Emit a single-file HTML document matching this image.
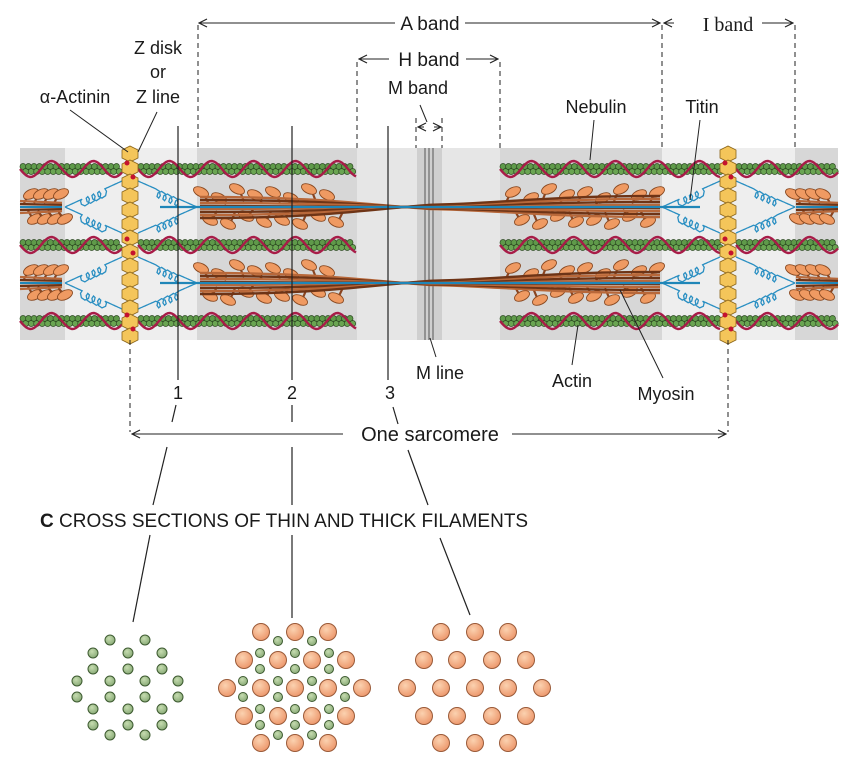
<!DOCTYPE html>
<html><head><meta charset="utf-8"><style>
html,body{margin:0;padding:0;background:#fff;}
svg{display:block;font-family:"Liberation Sans",sans-serif;}
text{fill:#1a1a1a;}
</style></head><body>
<svg id="fig" width="853" height="763" viewBox="0 0 853 763" xmlns="http://www.w3.org/2000/svg">
<defs>
<marker id="ah" markerWidth="10" markerHeight="10" refX="9" refY="5" orient="auto-start-reverse" markerUnits="userSpaceOnUse"><path d="M1,1 L9,5 L1,9" fill="none" stroke="#222" stroke-width="1.2"/></marker>
<radialGradient id="og" cx="0.4" cy="0.35" r="0.7"><stop offset="0" stop-color="#fbd2b0"/><stop offset="1" stop-color="#ec9468"/></radialGradient>
<radialGradient id="gg" cx="0.4" cy="0.35" r="0.7"><stop offset="0" stop-color="#c6dcb0"/><stop offset="1" stop-color="#86a874"/></radialGradient>
</defs>
<g id="band-bg">
<rect x="20" y="148" width="818" height="192" fill="#eeeeee"/>
<rect x="20" y="148" width="45" height="192" fill="#d7d7d7"/>
<rect x="197" y="148" width="160" height="192" fill="#d7d7d7"/>
<rect x="357" y="148" width="143" height="192" fill="#e6e6e6"/>
<rect x="417" y="148" width="25" height="192" fill="#cfcfcf"/>
<rect x="500" y="148" width="162" height="192" fill="#d7d7d7"/>
<rect x="795" y="148" width="43" height="192" fill="#d7d7d7"/>
<line x1="425" y1="148" x2="425" y2="340" stroke="#555" stroke-width="1"/>
<line x1="429" y1="148" x2="429" y2="340" stroke="#555" stroke-width="1"/>
<line x1="433" y1="148" x2="433" y2="340" stroke="#555" stroke-width="1"/>
</g>
<g id="titin"></g>
<g id="thick"></g>
<g id="thin"></g>
<g id="zdisks"></g>
<g id="labels" font-size="18">
<text x="430" y="30" text-anchor="middle" font-size="19">A band</text>
<line x1="199" y1="23" x2="395" y2="23" stroke="#222" marker-start="url(#ah)"/>
<line x1="465" y1="23" x2="660" y2="23" stroke="#222" marker-end="url(#ah)"/>
<text x="728" y="31" text-anchor="middle" font-family="Liberation Serif" font-size="20">I band</text>
<line x1="674" y1="23" x2="664" y2="23" stroke="#222" marker-end="url(#ah)"/>
<line x1="762" y1="23" x2="793" y2="23" stroke="#222" marker-end="url(#ah)"/>
<text x="429" y="66" text-anchor="middle" font-size="19">H band</text>
<line x1="389" y1="59" x2="359" y2="59" stroke="#222" marker-end="url(#ah)"/>
<line x1="466" y1="59" x2="498" y2="59" stroke="#222" marker-end="url(#ah)"/>
<text x="418" y="94" text-anchor="middle">M band</text>
<line x1="420" y1="105" x2="427" y2="122" stroke="#222"/>
<line x1="424" y1="127" x2="418" y2="127" stroke="#222" marker-end="url(#ah)"/>
<line x1="434" y1="127" x2="441" y2="127" stroke="#222" marker-end="url(#ah)"/>
<text x="158" y="54" text-anchor="middle">Z disk</text>
<text x="158" y="78" text-anchor="middle">or</text>
<text x="158" y="103" text-anchor="middle">Z line</text>
<text x="75" y="103" text-anchor="middle">α-Actinin</text>
<line x1="70" y1="110" x2="128" y2="152" stroke="#222"/>
<line x1="157" y1="112" x2="138" y2="152" stroke="#222"/>
<text x="596" y="113" text-anchor="middle">Nebulin</text>
<line x1="594" y1="120" x2="590" y2="160" stroke="#222"/>
<text x="702" y="113" text-anchor="middle">Titin</text>
<line x1="700" y1="120" x2="690" y2="200" stroke="#222"/>
<text x="440" y="379" text-anchor="middle">M line</text>
<line x1="436" y1="357" x2="430" y2="338" stroke="#222"/>
<text x="572" y="387" text-anchor="middle">Actin</text>
<line x1="572" y1="365" x2="578" y2="325" stroke="#222"/>
<text x="666" y="400" text-anchor="middle">Myosin</text>
<line x1="663" y1="378" x2="620" y2="290" stroke="#222"/>
<text x="178" y="399" text-anchor="middle">1</text>
<text x="292" y="399" text-anchor="middle">2</text>
<text x="390" y="399" text-anchor="middle">3</text>
<text x="430" y="441" text-anchor="middle" font-size="20">One sarcomere</text>
<line x1="343" y1="434" x2="132" y2="434" stroke="#222" marker-end="url(#ah)"/>
<line x1="512" y1="434" x2="726" y2="434" stroke="#222" marker-end="url(#ah)"/>
<text x="40" y="527" font-size="19"><tspan font-weight="bold">C</tspan>  CROSS SECTIONS OF THIN AND THICK FILAMENTS</text>
</g>
<g id="lines" stroke="#222" stroke-width="1.2" fill="none">
<g stroke-dasharray="5,4" stroke-width="1">
<line x1="198" y1="25" x2="198" y2="148"/>
<line x1="662" y1="25" x2="662" y2="148"/>
<line x1="795" y1="25" x2="795" y2="148"/>
<line x1="357" y1="62" x2="357" y2="148"/>
<line x1="500" y1="62" x2="500" y2="148"/>
<line x1="416" y1="118" x2="416" y2="148"/>
<line x1="442" y1="118" x2="442" y2="148"/>
<line x1="130" y1="340" x2="130" y2="432"/>
<line x1="728" y1="340" x2="728" y2="432"/>
</g>
<line x1="178" y1="126" x2="178" y2="380"/>
<line x1="292" y1="126" x2="292" y2="380"/>
<line x1="388" y1="126" x2="388" y2="380"/>
<line x1="176" y1="405" x2="172" y2="422"/>
<line x1="167" y1="447" x2="153" y2="505"/>
<line x1="150" y1="535" x2="133" y2="622"/>
<line x1="292" y1="405" x2="292" y2="422"/>
<line x1="292" y1="447" x2="292" y2="505"/>
<line x1="292" y1="535" x2="292" y2="618"/>
<line x1="393" y1="407" x2="398" y2="424"/>
<line x1="408" y1="450" x2="428" y2="505"/>
<line x1="440" y1="538" x2="470" y2="615"/>
</g>
<g id="xs"></g>
</svg>
<script>
const NS="http://www.w3.org/2000/svg";
function mk(tag,attrs,parent){const e=document.createElementNS(NS,tag);for(const k in attrs)e.setAttribute(k,attrs[k]);parent.appendChild(e);return e;}
const thinRows=[169,245,321];
const thickRows=[207,283];
const thinG=document.getElementById('thin');
const thickG=document.getElementById('thick');
const titG=document.getElementById('titin');
const zG=document.getElementById('zdisks');
const thinSegs=[[20,122],[138,357],[500,720],[736,838]];
thinRows.forEach((y,ri)=>{
  thinSegs.forEach(s=>{
    const g=mk('g',{},thinG);
    
    
    for(let x=s[0]+3;x<=s[1]-2;x+=5.5){
      mk('circle',{cx:x,cy:y-2.5,r:3,fill:'#5f9a4a',stroke:'#2d4a22','stroke-width':0.7},g);
      mk('circle',{cx:x+2.7,cy:y+2.5,r:3,fill:'#6aa552',stroke:'#2d4a22','stroke-width':0.7},g);
    }
    let d='';
    for(let x=s[0];x<=s[1];x+=2){const yy=y+8*Math.sin((x-s[0])*2*Math.PI/42);d+=(d?'L':'M')+x+','+yy.toFixed(1);}
    const p=mk('path',{d:d,fill:'none',stroke:'#a81c48','stroke-width':2.4},g);
    
    
  });
});
function head(g,x,y,dy,dir){
  mk('line',{x1:x,y1:y+dy*0.3,x2:x+dir*5,y2:y+dy,stroke:'#8a4420','stroke-width':2.2},g);
  mk('ellipse',{cx:x+dir*7,cy:y+dy,rx:8,ry:4.5,fill:'#ef9a62',stroke:'#8a4a22','stroke-width':0.9,transform:`rotate(${dir*-25} ${x+dir*7} ${y+dy})`},g);
}
function thick(y,x0,x1){
  const g=mk('g',{},thickG);
  
  
  const mid=430;
  const offs=[-10,-7,-4,-1,2,5,8,11];
  // heads behind bundle
  const pat=[-15,13,-9,17,-18,9,-12,15];
  [[x0+8,350,-1],[506,x1-3,1]].forEach(r=>{
    let k=0;
    for(let x=r[0];x<r[1];x+=9){head(g,x,y,pat[k%8],r[2]);k++;}
  });
  offs.forEach((o,i)=>{
    const col=i%2?'#6e3416':'#b8683a';
    mk('path',{d:`M${x0},${y+o} C ${x0+120},${y+o} ${mid-70},${y+o*0.3} ${mid},${y-o*0.2} C ${mid+70},${y-o*0.3} ${x1-120},${y-o} ${x1},${y-o}`,fill:'none',stroke:col,'stroke-width':2.4},g);
  });
  mk('line',{x1:x0-40,y1:y,x2:x1+40,y2:y,stroke:'#1f86b8','stroke-width':2.2},g);
}
thickRows.forEach(y=>{
  thick(y,200,660);
  const g=mk('g',{},thickG);
  
  
  [[20,62,1],[796,838,-1]].forEach(r=>{
    for(let x=r[0]+4;x<r[1];x+=10){head(g,x,y,-13,r[2]);head(g,x+4,y,12,r[2]);}
    for(let o=-6;o<=6;o+=3)mk('line',{x1:r[0],y1:y+o,x2:r[1],y2:y+o*0.7,stroke:o%2?'#6e3416':'#b8683a','stroke-width':2.2},g);
    mk('line',{x1:r[0],y1:y,x2:r[1],y2:y,stroke:'#1f86b8','stroke-width':2},g);
  });
});
function coil(x0,y0,x1,y1,g){
  let d='';const n=60;
  for(let i=0;i<=n;i++){const t=i/n;let x=x0+(x1-x0)*t,y=y0+(y1-y0)*t;
    if(t>0.3&&t<0.7){const ph=(t-0.3)/0.4*4*2*Math.PI;x+=3*Math.sin(ph);y+=-4*Math.cos(ph)+4;}
    d+=(i?'L':'M')+x.toFixed(1)+','+y.toFixed(1);}
  mk('path',{d:d,fill:'none',stroke:'#2a8fc2','stroke-width':1.3},g);
}
[[130,65,197],[728,662,795]].forEach(z=>{
  thickRows.forEach(y=>{
    const g=mk('g',{},titG);
    
    
    [[z[0]+8,z[2]],[z[0]-8,z[1]]].forEach(p=>{
      coil(p[0],y-26,p[1],y,g);coil(p[0],y+26,p[1],y,g);
    });
  });
});
[130,728].forEach(zx=>{
  const g=mk('g',{},zG);
  
  
  for(let y=146;y<340;y+=14){
    mk('polygon',{points:`${zx-8},${y+4} ${zx},${y} ${zx+8},${y+4} ${zx+8},${y+12} ${zx},${y+16} ${zx-8},${y+12}`,fill:'#f4c55a',stroke:'#8a6418','stroke-width':0.8},g);
  }
  thinRows.forEach(y=>{
    mk('circle',{cx:zx-3,cy:y-6,r:2.5,fill:'#c4122e'},g);
    mk('circle',{cx:zx+3,cy:y+8,r:2.5,fill:'#c4122e'},g);
  });
});
const xsG=document.getElementById('xs');
const thinXS1=[[110,640],[145,640],[93,653],[128,653],[162,653],[93,669],[128,669],[162,669],[77,681],[110,681],[145,681],[178,681],[77,697],[110,697],[145,697],[178,697],[93,709],[128,709],[162,709],[93,725],[128,725],[162,725],[110,735],[145,735]];
const thickXS2=[[261,632],[295,632],[328,632],[244,660],[278,660],[312,660],[346,660],[227,688],[261,688],[295,688],[328,688],[362,688],[244,716],[278,716],[312,716],[346,716],[261,743],[295,743],[328,743]];
const thinXS2=[[278,641],[312,641],[260,653],[295,653],[329,653],[260,669],[295,669],[329,669],[243,681],[278,681],[312,681],[345,681],[243,697],[278,697],[312,697],[345,697],[260,709],[295,709],[329,709],[260,725],[295,725],[329,725],[278,735],[312,735]];
const thickXS3=[[441,632],[475,632],[508,632],[424,660],[457,660],[492,660],[526,660],[407,688],[441,688],[475,688],[508,688],[542,688],[424,716],[457,716],[492,716],[526,716],[441,743],[475,743],[508,743]];
function dots(arr,r,fill,stroke,name){
  const g=mk('g',{},xsG);
  
  
  arr.forEach(p=>mk('circle',{cx:p[0],cy:p[1],r:r,fill:fill,stroke:stroke,'stroke-width':1},g));
}
dots(thinXS1,5,'url(#gg)','#3d5a30','cross-section-1');
dots(thickXS2,8.5,'url(#og)','#9a5a38','cross-section-2-thick');
dots(thinXS2,4.5,'url(#gg)','#3d5a30','cross-section-2-thin');
dots(thickXS3,8.5,'url(#og)','#9a5a38','cross-section-3');
</script>
</body></html>
